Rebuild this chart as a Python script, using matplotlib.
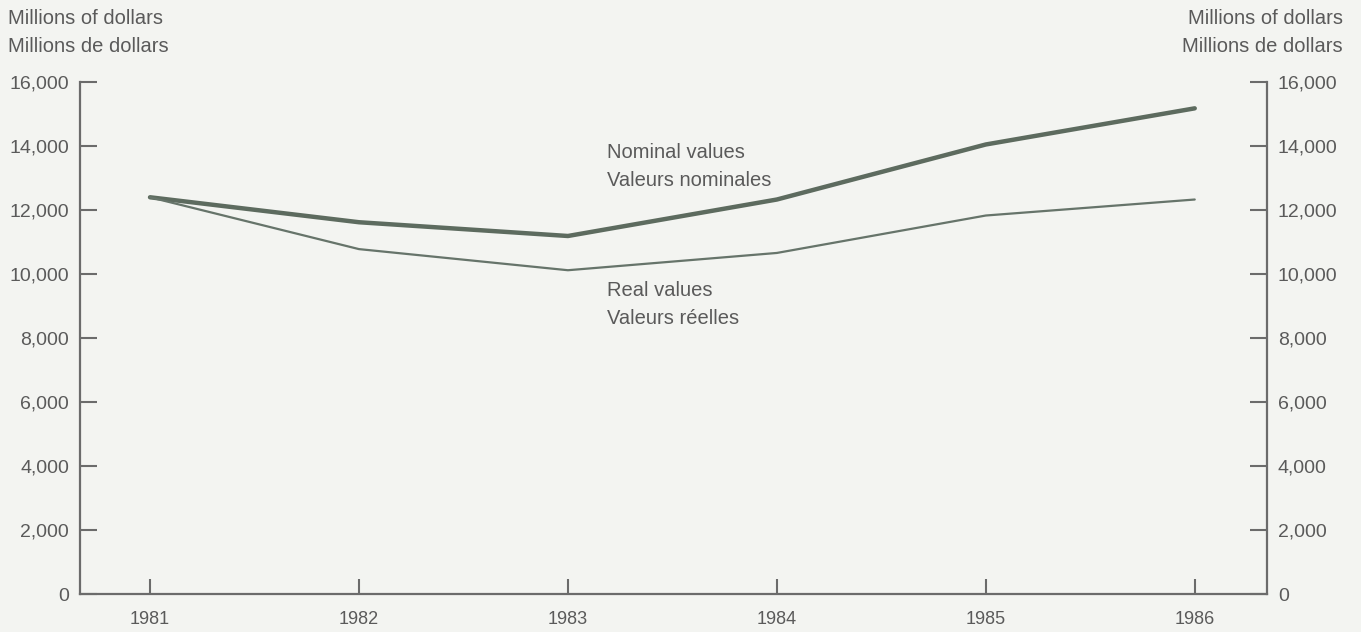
import matplotlib.pyplot as plt
from matplotlib.ticker import FuncFormatter

years = [1981, 1982, 1983, 1984, 1985, 1986]
nominal = [12400, 11620, 11190, 12330, 14050, 15180]
real = [12400, 10780, 10120, 10660, 11830, 12330]
y_ticks = [0, 2000, 4000, 6000, 8000, 10000, 12000, 14000, 16000]

BG = "#f3f4f1"
LINE = "#5d6b5f"
TEXT = "#5a5a5a"
FS = 14.5

plt.rcParams['font.family'] = ['Liberation Sans', 'DejaVu Sans']

fig = plt.figure(figsize=(13.61, 6.32), dpi=100, facecolor=BG)
ax = fig.add_axes([0.0588, 0.0601, 0.872, 0.810])
ax.set_facecolor(BG)

ax.plot(years, nominal, color=LINE, lw=3.2, solid_capstyle='round')
ax.plot(years, real, color="#66746a", lw=1.6, solid_capstyle='round')

ax.set_xlim(1980.665, 1986.345)
ax.set_ylim(0, 16000)
ax.set_xticks(years)
ax.set_yticks(y_ticks)
ax.yaxis.set_major_formatter(FuncFormatter(lambda v, p: f"{int(v):,}"))

for s in ['left', 'right', 'bottom']:
  ax.spines[s].set_color("#6b6b6b")
  ax.spines[s].set_linewidth(1.6)
ax.spines['top'].set_visible(False)

ax.tick_params(axis='y', direction='in', length=12, width=1.5, color="#6b6b6b",
               left=True, right=True, labelleft=True, labelright=True,
               labelsize=14, labelcolor=TEXT, pad=8)
ax.tick_params(axis='x', direction='in', length=11, width=1.5, color="#6b6b6b",
               labelsize=13, labelcolor=TEXT, pad=12)

# axis titles
fig.text(8 / 1361, 1 - 18 / 632, "Millions of dollars", fontsize=FS, color=TEXT, va='center', ha='left')
fig.text(8 / 1361, 1 - 46 / 632, "Millions de dollars", fontsize=FS, color=TEXT, va='center', ha='left')
fig.text(1343 / 1361, 1 - 18 / 632, "Millions of dollars", fontsize=FS, color=TEXT, va='center', ha='right')
fig.text(1343 / 1361, 1 - 46 / 632, "Millions de dollars", fontsize=FS, color=TEXT, va='center', ha='right')

# series labels
fig.text(607 / 1361, 1 - 153 / 632, "Nominal values", fontsize=FS, color=TEXT, va='center', ha='left')
fig.text(607 / 1361, 1 - 181 / 632, "Valeurs nominales", fontsize=FS, color=TEXT, va='center', ha='left')
fig.text(607 / 1361, 1 - 291 / 632, "Real values", fontsize=FS, color=TEXT, va='center', ha='left')
fig.text(607 / 1361, 1 - 318 / 632, "Valeurs réelles", fontsize=FS, color=TEXT, va='center', ha='left')

fig.savefig("out.png", dpi=100, facecolor=BG)
